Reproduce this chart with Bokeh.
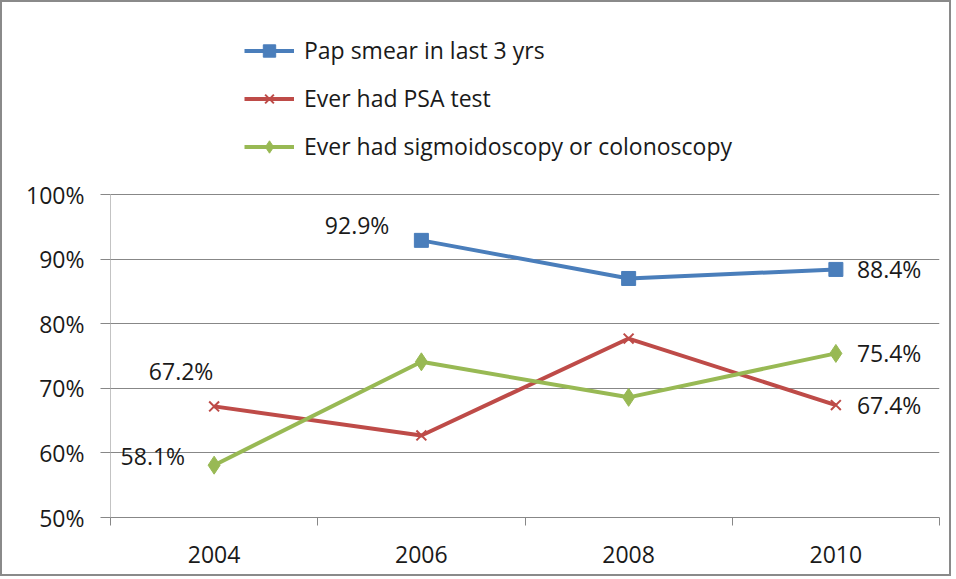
from bokeh.plotting import figure
from bokeh.models import (FactorRange, Range1d, LinearAxis, CategoricalAxis, FixedTicker,
                          PrintfTickFormatter, Legend, LegendItem, ColumnDataSource)
from bokeh.core.properties import value
from bokeh.embed import file_html
from bokeh.resources import INLINE
import math

years = ["2004", "2006", "2008", "2010"]
pap = [math.nan, 92.9, 87.0, 88.4]
psa = [67.2, 62.7, 77.7, 67.4]
sig = [58.1, 74.1, 68.6, 75.4]
names = ["Pap smear in last 3 yrs", "Ever had PSA test", "Ever had sigmoidoscopy or colonoscopy"]
y_ticks = [50, 60, 70, 80, 90, 100]

FONT = "Open Sans"
FS = "23px"
TXT = "#1a1a1a"
GRID = "#878787"
BLUE, RED, GREEN = "#4a7ebb", "#be4b48", "#98b954"

# frame reaches up to hold the legend; the value scale keeps 50..100 over the lower 323 px
FRAME_H = 498
Y_TOP = y_ticks[0] + (y_ticks[-1] - y_ticks[0]) * FRAME_H / 323.0

p = figure(width=951, height=576, output_backend="svg", toolbar_location=None,
           x_range=FactorRange(*years, range_padding=0), y_range=Range1d(y_ticks[0], Y_TOP),
           x_axis_location=None, y_axis_location=None,
           min_border_left=108, min_border_right=14, min_border_top=17, min_border_bottom=61)
p.styles = {"border": "2px solid #8a8a8a"}
p.outline_line_color = None
p.xgrid.grid_line_color = None

yax = LinearAxis(ticker=FixedTicker(ticks=y_ticks), formatter=PrintfTickFormatter(format="%d%%"))
yax.axis_line_color = None
yax.major_tick_line_color = GRID
yax.major_tick_out = 10
yax.major_tick_in = 0
yax.minor_tick_line_color = None
yax.major_label_standoff = 16
yax.major_label_text_font = FONT
yax.major_label_text_font_size = FS
yax.major_label_text_color = TXT
p.add_layout(yax, "left")
p.ygrid.ticker = FixedTicker(ticks=y_ticks)
p.ygrid.grid_line_color = GRID

# value-axis line only over the 50%..100% span
p.segment(x0=[0], y0=[y_ticks[0]], x1=[0], y1=[y_ticks[-1]], line_color=GRID, line_width=1)

# boundary ticks between the categories (synthetic coordinates), no labels
bounds = list(range(len(years) + 1))
bax = LinearAxis(ticker=FixedTicker(ticks=bounds))
bax.axis_line_color = GRID
bax.major_tick_line_color = GRID
bax.major_tick_out = 8
bax.major_tick_in = 0
bax.minor_tick_line_color = None
bax.major_label_overrides = {b: "" for b in bounds}
bax.major_label_text_font_size = "1px"
bax.major_label_standoff = 0
p.add_layout(bax, "below")

cax = CategoricalAxis()
cax.axis_line_color = None
cax.major_tick_line_color = None
cax.major_label_standoff = 14
cax.major_label_text_font = FONT
cax.major_label_text_font_size = FS
cax.major_label_text_color = TXT
p.add_layout(cax, "below")

src = ColumnDataSource(dict(x=years, pap=pap, psa=psa, sig=sig))
l1 = p.line("x", "pap", source=src, line_color=BLUE, line_width=4)
m1 = p.scatter("x", "pap", source=src, marker="square", size=14, fill_color=BLUE, line_color=BLUE)
l2 = p.line("x", "psa", source=src, line_color=RED, line_width=4)
m2 = p.scatter("x", "psa", source=src, marker="x", size=14, line_color=RED, line_width=2)
l3 = p.line("x", "sig", source=src, line_color=GREEN, line_width=4)
m3 = p.scatter("x", "sig", source=src, marker="diamond", size=18, fill_color=GREEN, line_color=GREEN)

# data labels: (series values, index, x offset, y offset, align)
label_specs = [
    (pap, 1, -32, -15, "right"),
    (pap, 3, 21, 0, "left"),
    (psa, 0, -33, -35, "center"),
    (psa, 3, 21, 0, "left"),
    (sig, 0, -29, -9, "right"),
    (sig, 3, 21, 0, "left"),
]
for vals, i, dx, dy, al in label_specs:
    p.text(x=[years[i]], y=[vals[i]], text=["%.1f%%" % vals[i]], x_offset=dx, y_offset=dy,
           text_align=al, text_baseline="middle", text_font=value(FONT),
           text_font_size=FS, text_color=TXT)

legend = Legend(items=[LegendItem(label=names[0], renderers=[l1, m1]),
                       LegendItem(label=names[1], renderers=[l2, m2]),
                       LegendItem(label=names[2], renderers=[l3, m3])],
                location=(134, 355))
legend.border_line_color = None
legend.background_fill_alpha = 0
legend.padding = 0
legend.margin = 0
legend.spacing = 16
legend.glyph_width = 50
legend.glyph_height = 31
legend.label_height = 31
legend.label_standoff = 10
legend.label_text_font = FONT
legend.label_text_font_size = FS
legend.label_text_color = TXT
p.add_layout(legend, "center")

open("out.html", "w").write(file_html(p, INLINE))
